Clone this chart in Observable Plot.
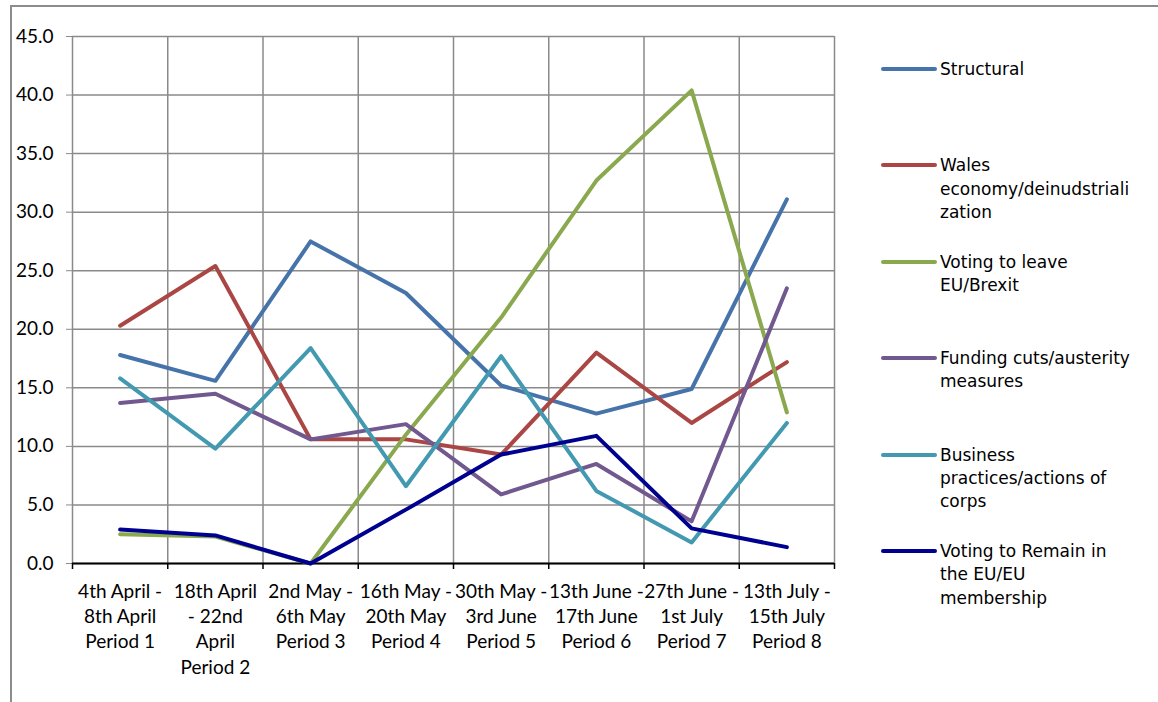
<!DOCTYPE html>
<html>
<head>
<meta charset="utf-8">
<script src="https://cdn.jsdelivr.net/npm/d3@7"></script>
<script src="https://cdn.jsdelivr.net/npm/@observablehq/plot@0.6"></script>
<style>
  html, body { margin: 0; padding: 0; background: #fff; }
  #page { position: relative; width: 1158px; height: 702px; overflow: hidden; }
  #frame { position: absolute; left: 10px; top: 5px; right: 0; bottom: -5px; border-left: 2px solid #8c8c8c; border-top: 2px solid #8c8c8c; }
  #chart { position: absolute; left: 0; top: 0; }
  #legend { position: absolute; left: 0; top: 0; font-family: "DejaVu Sans", sans-serif; font-size: 17px; color: #000; }
  .item { position: absolute; left: 881px; }
  .sw { position: absolute; left: 0; width: 56px; height: 4px; border-radius: 2px; }
  .lbl { position: absolute; left: 59px; line-height: 23.3px; white-space: nowrap; }
</style>
</head>
<body>
<div id="page">
  <div id="frame"></div>
  <div id="chart"></div>
  <div id="legend"></div>
</div>
<script>
const periods = [1, 2, 3, 4, 5, 6, 7, 8];
const periodLabels = [
  "4th April -\n8th April\nPeriod 1",
  "18th April\n- 22nd\nApril\nPeriod 2",
  "2nd May -\n6th May\nPeriod 3",
  "16th May -\n20th May\nPeriod 4",
  "30th May -\n3rd June\nPeriod 5",
  "13th June -\n17th June\nPeriod 6",
  "27th June -\n1st July\nPeriod 7",
  "13th July -\n15th July\nPeriod 8"
];
const seriesNames = [
  "Structural",
  "Wales economy/deinudstrialization",
  "Voting to leave EU/Brexit",
  "Funding cuts/austerity measures",
  "Business practices/actions of corps",
  "Voting to Remain in the EU/EU membership"
];
const legendLines = [
  ["Structural"],
  ["Wales", "economy/deinudstriali", "zation"],
  ["Voting to leave", "EU/Brexit"],
  ["Funding cuts/austerity", "measures"],
  ["Business", "practices/actions of", "corps"],
  ["Voting to Remain in", "the EU/EU", "membership"]
];
const colors = ["#4674AA", "#AA4643", "#8AA84E", "#71588F", "#4299B0", "#000090"];

const structural = [17.8, 15.6, 27.5, 23.1, 15.2, 12.8, 14.9, 31.1];
const wales      = [20.3, 25.4, 10.6, 10.6, 9.3, 18.0, 12.0, 17.2];
const leave      = [2.5, 2.3, 0.0, 11.0, 21.0, 32.7, 40.4, 12.9];
const funding    = [13.7, 14.5, 10.6, 11.9, 5.9, 8.5, 3.6, 23.5];
const business   = [15.8, 9.8, 18.4, 6.6, 17.7, 6.2, 1.8, 12.0];
const remain     = [2.9, 2.4, 0.0, 4.6, 9.3, 10.9, 3.0, 1.4];

const yTicks = [0, 5, 10, 15, 20, 25, 30, 35, 40, 45];
const bounds = [0.5, 1.5, 2.5, 3.5, 4.5, 5.5, 6.5, 7.5, 8.5];

const allSeries = [structural, wales, leave, funding, business, remain];
const rows = [];
allSeries.forEach((vals, si) => {
  vals.forEach((v, i) => rows.push({series: seriesNames[si], period: periods[i], value: v}));
});

const axisFont = "Lato, 'Liberation Sans', sans-serif";

const plot = Plot.plot({
  width: 850,
  height: 700,
  marginLeft: 72,
  marginRight: 16,
  marginTop: 36,
  marginBottom: 137,
  style: {fontFamily: axisFont, fontSize: "19px", color: "#000", background: "transparent"},
  x: {type: "linear", domain: [0.5, 8.5]},
  y: {domain: [0, 45]},
  color: {domain: seriesNames, range: colors},
  marks: [
    Plot.ruleY(yTicks, {stroke: "#8a8a8a", strokeWidth: 1.5, strokeOpacity: 1}),
    Plot.ruleX(bounds, {stroke: "#8a8a8a", strokeWidth: 1.5, strokeOpacity: 1}),
    Plot.axisY({ticks: yTicks, tickFormat: d => d.toFixed(1), tickSize: 6, tickPadding: 13, stroke: "#8a8a8a", label: null, fontSize: 19}),
    Plot.axisX({ticks: bounds, tickFormat: () => "", tickSize: 6, stroke: "#000", strokeWidth: 1.5, label: null}),
    Plot.axisX({ticks: periods, tickFormat: d => periodLabels[d - 1], tickSize: 0, tickPadding: 16, lineHeight: 1.34, label: null, fontSize: 19}),
    Plot.ruleY([0], {stroke: "#000", strokeWidth: 2}),
    Plot.line(rows, {x: "period", y: "value", z: "series", stroke: "series", strokeWidth: 4, strokeLinejoin: "round", strokeLinecap: "round"})
  ]
});
document.getElementById("chart").appendChild(plot);

const legend = document.getElementById("legend");
const firstY = 69, step = 96.4;
legendLines.forEach((lines, i) => {
  const item = document.createElement("div");
  item.className = "item";
  item.style.top = (firstY + i * step) + "px";
  const sw = document.createElement("div");
  sw.className = "sw";
  sw.style.background = colors[i];
  sw.style.top = "-2px";
  const lbl = document.createElement("div");
  lbl.className = "lbl";
  lbl.style.top = "-11px";
  lbl.innerHTML = lines.map(s => s.replace(/&/g, "&amp;")).join("<br>");
  item.appendChild(sw);
  item.appendChild(lbl);
  legend.appendChild(item);
});
</script>
</body>
</html>
